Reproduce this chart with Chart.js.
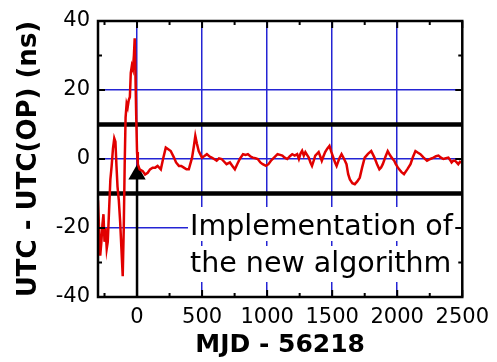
<!DOCTYPE html>
<html><head><meta charset="utf-8">
<script src="https://cdn.jsdelivr.net/npm/chart.js@4.4.0/dist/chart.umd.min.js"></script>
<style>html,body{margin:0;padding:0;background:#fff;}canvas{display:block;}</style>
</head><body>
<canvas id="c" width="497" height="362"></canvas>
<script>
// ---- data ----
const mjd = [-300,-292,-283,-274,-266,-258,-250,-242,-233,-225,-215,-205,-195,-185,-175,-166,-158,-150,-140,-130,-120,-110,-102,-95,-88,-80,-72,-64,-55,-48,-40,-32,-24,-18,-12,-6,0,6,20,44,62,82,100,120,140,158,183,200,221,240,259,284,300,322,340,360,380,398,423,438,448,460,474,499,515,537,555,574,593,612,630,650,670,688,714,733,752,770,790,815,835,852,870,890,910,928,948,966,991,1010,1029,1055,1080,1100,1117,1135,1155,1175,1193,1212,1231,1244,1256,1269,1282,1294,1307,1320,1333,1345,1358,1370,1383,1396,1408,1420,1433,1446,1462,1479,1494,1509,1522,1534,1553,1572,1585,1598,1610,1623,1636,1655,1674,1693,1712,1730,1750,1775,1800,1812,1825,1845,1863,1876,1889,1908,1927,1946,1965,1977,1989,2002,2015,2033,2052,2077,2102,2120,2140,2160,2178,2203,2229,2254,2279,2298,2317,2336,2355,2374,2393,2405,2418,2431,2444,2457,2469,2482,2495];
const offsetNs = [-12,-20,-28,-24,-19,-16,-24,-20,-26,-24,-15,-6,-2,3,6,5,-2,-8,-12,-18,-26,-34,-20,-2,12,16,15,17,18,25,27,26,30,35,24,12,2,-1.5,-3,-3.5,-4.5,-4,-3,-2.5,-2.5,-2,-3,0,3.3,2.8,2.3,0.4,-1,-2,-2,-2.5,-3,-3,0.4,4,6.7,4.5,2.3,0.4,0.8,1.4,0.8,0.4,0,-0.5,0.2,0,-0.8,-1.5,-1,-2,-3,-1.5,0,1.4,1.2,1.4,0.8,0.4,0.2,0,-1,-1.5,-2,-1.5,-0.5,0.5,1.4,1.2,1,0.4,0,0.8,1.4,1,1.4,0,1.5,2.4,1,2,1.2,0.4,-1,-2,-0.5,1,1.5,2,0.8,-0.5,0.8,2,3,3.8,2,0.4,-1,-2,0,1.4,0.5,-0.5,-1.5,-4.4,-5.9,-7,-7.3,-6.5,-5.4,-2.5,0.4,1.5,2.3,1.4,0.4,-1.5,-3,-2.5,-1.5,0.5,2.3,1,0,-0.5,-1.5,-2.3,-3,-3.8,-4.4,-3,-1.5,0.5,2.3,1.8,1.4,0.4,-0.5,0,0.4,0.8,1,0.4,0,0.2,0.4,-0.2,-1,-0.5,-0.5,-1,-1.5,-0.8,-1];
const xRange = [-300, 2500];
const yRange = [-40, 40];
const xTickValues = [0, 500, 1000, 1500, 2000, 2500];
const yTickValues = [-40, -20, 0, 20, 40];
const xMinorStep = 250;
const yMinorStep = 10;
const limitLines = [10, -10];
const arrowX = 0;
const arrowTipY = -4.5;
const annotationLines = ['Implementation of', 'the new algorithm'];
const xTitle = 'MJD - 56218';
const yTitle = 'UTC - UTC(OP) (ns)';

// ---- chart ----
const BLUE = '#2424d4';
const NONE = 'rgba(0,0,0,0)';
const FONT = 'DejaVu Sans';

const framePlugin = {
  id: 'frame',
  afterDraw(chart) {
    const {ctx, chartArea: a, scales: {x, y}} = chart;
    ctx.save();
    ctx.strokeStyle = '#000';
    ctx.lineWidth = 2;
    ctx.beginPath();
    for (let v = Math.ceil(xRange[0] / xMinorStep) * xMinorStep; v <= xRange[1]; v += xMinorStep) {
      const px = x.getPixelForValue(v);
      const len = (v % (2 * xMinorStep) === 0) ? 7 : 4;
      ctx.moveTo(px, a.bottom); ctx.lineTo(px, a.bottom - len);
      ctx.moveTo(px, a.top); ctx.lineTo(px, a.top + len);
    }
    for (let v = yRange[0]; v <= yRange[1]; v += yMinorStep) {
      const py = y.getPixelForValue(v);
      const len = (v % (2 * yMinorStep) === 0) ? 7 : 4;
      ctx.moveTo(a.left, py); ctx.lineTo(a.left + len, py);
      ctx.moveTo(a.right, py); ctx.lineTo(a.right - len, py);
    }
    ctx.stroke();
    ctx.lineWidth = 2.5;
    ctx.strokeRect(a.left, a.top, a.right - a.left, a.bottom - a.top);
    ctx.restore();
  }
};

const notePlugin = {
  id: 'note',
  afterDatasetsDraw(chart) {
    const {ctx} = chart;
    ctx.save();
    ctx.fillStyle = '#fff';
    ctx.fillRect(188, 207, 273, 34);
    ctx.fillRect(188, 246, 273, 36);
    ctx.fillStyle = '#000';
    ctx.font = '28.5px "' + FONT + '"';
    ctx.textBaseline = 'alphabetic';
    ctx.textAlign = 'left';
    ctx.fillText(annotationLines[0], 190, 235);
    ctx.fillText(annotationLines[1], 190, 272);
    ctx.restore();
  }
};

new Chart(document.getElementById('c'), {
  type: 'line',
  data: {
    datasets: [
      {
        data: mjd.map((v, i) => ({x: v, y: offsetNs[i]})),
        borderColor: '#e10000', borderWidth: 2.5, pointRadius: 0, tension: 0, order: 0
      },
      ...limitLines.map(v => ({
        data: [{x: xRange[0], y: v}, {x: xRange[1], y: v}],
        borderColor: '#000', borderWidth: 4.5, pointRadius: 0, order: 1
      })),
      {
        data: [{x: arrowX, y: yRange[0]}, {x: arrowX, y: arrowTipY}],
        borderColor: '#000', borderWidth: 2.5,
        pointRadius: [0, 10], pointStyle: 'triangle',
        pointBackgroundColor: '#000', pointBorderColor: '#000', pointBorderWidth: 0,
        order: 2
      }
    ]
  },
  options: {
    responsive: false,
    animation: false,
    events: [],
    layout: {padding: {left: 0, top: 21, right: 30, bottom: 0}},
    plugins: {legend: {display: false}, tooltip: {enabled: false}},
    scales: {
      x: {
        type: 'linear', min: xRange[0], max: xRange[1],
        afterBuildTicks: s => { s.ticks = xTickValues.map(v => ({value: v})); },
        afterFit: s => { s.height = 65; },
        grid: {color: c => (c.tick && c.tick.value === xRange[1]) ? NONE : BLUE, lineWidth: 1.5, drawTicks: false},
        border: {display: false},
        ticks: {font: {family: FONT, size: 21}, color: '#000', padding: 8, maxRotation: 0, autoSkip: false,
                callback: v => String(v)},
        title: {display: true, text: xTitle, color: '#000', font: {family: FONT, size: 25, weight: 'bold'}, padding: {top: 0, bottom: 2}}
      },
      y: {
        min: yRange[0], max: yRange[1],
        afterBuildTicks: s => { s.ticks = yTickValues.map(v => ({value: v})); },
        afterFit: s => { s.width = 98; },
        grid: {color: c => (c.tick && Math.abs(c.tick.value) === 40) ? NONE : BLUE, lineWidth: 1.5, drawTicks: false},
        border: {display: false},
        ticks: {font: {family: FONT, size: 21}, color: '#000', padding: 8, autoSkip: false,
                callback: v => String(v)},
        title: {display: true, text: yTitle, color: '#000', font: {family: FONT, size: 26, weight: 'bold'}, padding: {top: 14, bottom: 0}}
      }
    }
  },
  plugins: [notePlugin, framePlugin]
});
</script>
</body></html>
